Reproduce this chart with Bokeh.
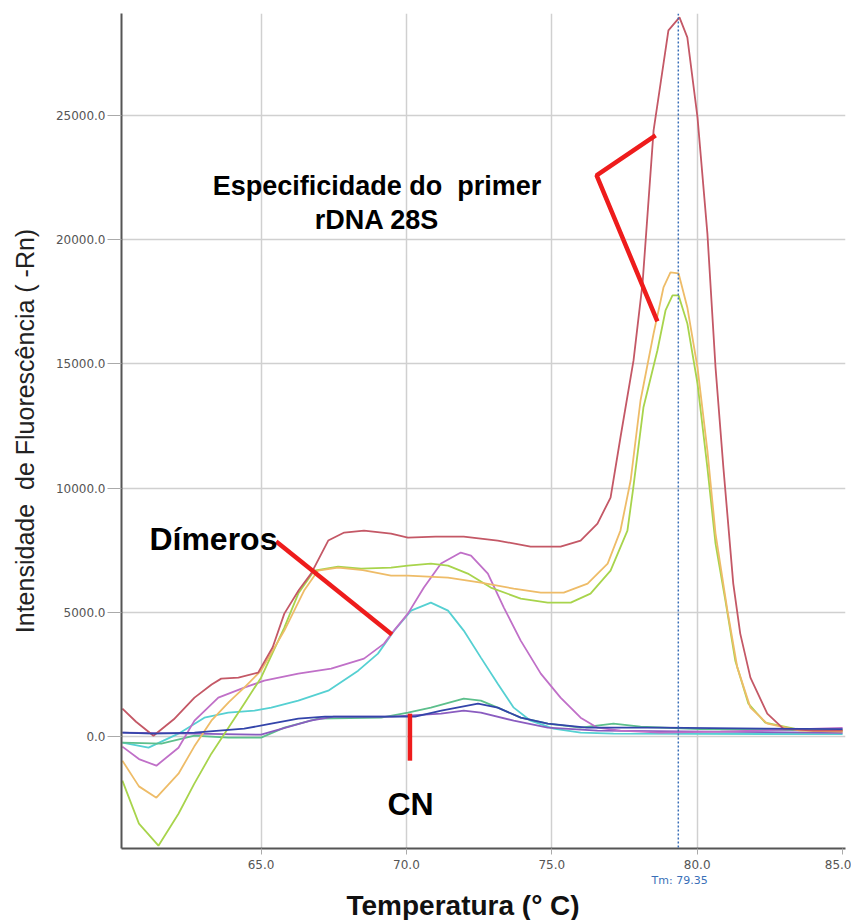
from bokeh.plotting import figure
from bokeh.models import Span, Label, FixedTicker, PrintfTickFormatter, Title
from bokeh.embed import file_html
from bokeh.resources import INLINE

# ---------------- data ----------------
x_ticks = [65.0, 70.0, 75.0, 80.0, 85.0]
y_ticks = [0.0, 5000.0, 10000.0, 15000.0, 20000.0, 25000.0]
tm_value = 79.35

red_t = [60.23, 60.7, 61.3, 62.0, 62.71, 63.3, 63.63, 64.22, 64.9, 65.4, 65.8, 66.3, 66.72, 67.31,
         67.86, 68.54, 69.47, 70.05, 71.0, 71.97, 73.14, 74.27, 75.30, 75.99, 76.57, 77.02, 77.36,
         77.81, 78.12, 78.50, 78.74, 79.01, 79.39, 79.66, 80.01, 80.35, 80.63, 80.90, 81.24, 81.48,
         81.83, 82.41, 82.96, 84.0, 85.0]
red_v = [1130, 600, 40, 700, 1570, 2100, 2335, 2375, 2577, 3600, 4952, 5900, 6562, 7891,
         8213, 8294, 8173, 8012, 8050, 8052, 7891, 7649, 7649, 7891, 8575, 9622, 12038,
         15138, 18238, 24398, 26290, 28424, 28947, 28142, 24921, 20251, 14856, 10830, 6160, 4147,
         2375, 926, 322, 240, 240]

orange_t = [60.23, 60.8, 61.40, 62.16, 62.7, 63.29, 63.9, 64.42, 65.0, 65.8, 66.48, 66.96, 67.65,
            68.5, 69.47, 70.05, 71.43, 72.56, 73.69, 74.62, 75.41, 76.23, 76.92, 77.36, 77.71,
            78.05, 78.50, 78.84, 79.08, 79.36, 79.66, 80.01, 80.35, 80.63, 81.04, 81.38, 81.83,
            82.41, 83.54, 85.0]
orange_v = [-966, -2000, -2456, -1490, -400, 644, 1400, 1973, 2657, 4268, 5878, 6683, 6804,
            6700, 6482, 6482, 6401, 6200, 5958, 5797, 5797, 6160, 6965, 8294, 10307,
            13527, 16224, 18076, 18680, 18640, 17272, 14856, 11514, 8173, 5073, 2778, 1168,
            523, 240, 200]

lime_t = [60.23, 60.8, 61.47, 62.16, 62.7, 63.29, 63.9, 64.42, 65.0, 65.8, 66.28, 66.83, 67.65,
          68.44, 69.47, 70.05, 70.84, 71.43, 72.11, 72.9, 73.93, 74.86, 75.65, 76.33, 77.02,
          77.6, 77.8, 78.15, 78.63, 78.91, 79.15, 79.36, 79.66, 80.01, 80.35, 80.63, 80.97,
          81.31, 81.76, 82.34, 83.5, 85.0]
lime_v = [-1771, -3500, -4388, -3100, -1900, -684, 400, 1329, 2375, 4388, 5757, 6683, 6844,
          6764, 6804, 6884, 6965, 6884, 6562, 5999, 5556, 5395, 5395, 5757, 6683,
          8294, 10000, 13245, 15540, 17151, 17755, 17755, 16627, 14212, 10830, 7770, 5475,
          3060, 1329, 564, 282, 240]

magenta_t = [60.23, 60.8, 61.40, 62.16, 62.71, 63.53, 64.42, 65.11, 66.28, 67.41, 68.54, 69.23,
             69.57, 70.05, 70.60, 71.19, 71.87, 72.22, 72.80, 73.35, 73.93, 74.62, 75.30, 75.99,
             76.57, 77.36, 78.74, 80.8, 85.0]
magenta_v = [-400, -900, -1168, -443, 644, 1570, 1973, 2255, 2536, 2738, 3140, 3744,
             4268, 4952, 5999, 6965, 7408, 7287, 6562, 5194, 3865, 2536, 1570, 765,
             362, 242, 161, 200, 350]

cyan_t = [60.23, 61.13, 62.16, 63.05, 63.87, 64.77, 65.35, 66.28, 67.31, 68.34, 69.02, 69.6,
          70.16, 70.84, 71.43, 71.97, 72.56, 73.14, 73.69, 74.27, 75.06, 75.99, 77.12, 85.0]
cyan_v = [-240, -443, 120, 765, 966, 1047, 1168, 1449, 1852, 2657, 3342, 4300,
          5073, 5395, 5073, 4268, 3181, 2134, 1168, 644, 322, 161, 120, 100]

green_t = [60.23, 61.57, 62.71, 63.87, 65.0, 65.8, 66.96, 69.13, 70.05, 70.84, 71.97, 72.56,
           73.14, 73.93, 74.86, 75.99, 77.12, 78.05, 80.1, 85.0]
green_v = [-240, -280, 40, -40, -40, 362, 724, 765, 966, 1168, 1530, 1449,
           1168, 765, 523, 362, 523, 400, 300, 240]

blue_t = [60.23, 61.3, 62.71, 64.42, 65.35, 66.28, 67.2, 69.47, 70.3, 71.2, 72.46, 73.14,
          73.93, 74.86, 76.2, 78.7, 85.0]
blue_v = [161, 120, 161, 322, 523, 724, 805, 805, 805, 1047, 1329, 1168,
          765, 523, 362, 362, 300]

purple_t = [60.23, 62.71, 65.0, 66.7, 67.5, 69.5, 71.19, 71.97, 72.56, 73.69, 74.86, 76.57, 85.0]
purple_v = [161, 120, 80, 644, 805, 805, 926, 1047, 966, 644, 362, 240, 150]

# annotation pointer lines (data coords)
spec_line_t = [78.57, 76.54, 78.63]
spec_line_v = [24196, 22586, 16708]
dimer_line_t = [65.52, 69.50]
dimer_line_v = [7851, 4107]
cn_line_t = [70.12, 70.12]
cn_line_v = [926, -966]

# ---------------- figure ----------------
p = figure(frame_width=724, frame_height=835, x_range=(60.2, 85.1), y_range=(-4500, 29100),
           output_backend="svg", toolbar_location=None,
           min_border_left=121, min_border_right=6, min_border_top=13, min_border_bottom=0)
p.outline_line_color = None
p.background_fill_color = "white"
p.border_fill_color = "white"

p.xaxis.ticker = FixedTicker(ticks=x_ticks)
p.yaxis.ticker = FixedTicker(ticks=y_ticks)
p.xaxis.formatter = PrintfTickFormatter(format="%.1f")
p.yaxis.formatter = PrintfTickFormatter(format="%.1f")
p.xgrid.ticker = FixedTicker(ticks=x_ticks[:-1])
p.ygrid.ticker = FixedTicker(ticks=y_ticks)
p.grid.grid_line_color = "#d0d0d0"
p.grid.grid_line_width = 1.5

for ax in (p.xaxis[0], p.yaxis[0]):
    ax.axis_line_color = "#555555"
    ax.axis_line_width = 2
    ax.major_tick_line_color = "#aaaaaa"
    ax.major_tick_in = 0
    ax.minor_tick_line_color = None
    ax.major_label_text_font = "DejaVu Sans"
    ax.major_label_text_font_size = "12px"
    ax.major_label_text_color = "#555555"

p.yaxis.major_tick_out = 14
p.yaxis.major_label_standoff = 2
p.xaxis.major_tick_out = 6
p.xaxis.major_label_standoff = 5

p.yaxis.axis_label = "Intensidade\u00a0 de Fluorescência ( -Rn)"
p.yaxis.axis_label_text_font = "Liberation Sans"
p.yaxis.axis_label_text_font_size = "25px"
p.yaxis.axis_label_text_font_style = "normal"
p.yaxis.axis_label_text_color = "#222222"
p.yaxis.axis_label_standoff = 14

series = [
    (cyan_t, cyan_v, "#55d0d2"),
    (green_t, green_v, "#5cbf8c"),
    (purple_t, purple_v, "#8a5cc0"),
    (magenta_t, magenta_v, "#c070c8"),
    (lime_t, lime_v, "#a8d44c"),
    (orange_t, orange_v, "#eebc68"),
    (red_t, red_v, "#c45866"),
    (blue_t, blue_v, "#3344aa"),
]
for t, v, c in series:
    p.line(t, v, line_color=c, line_width=1.8)

p.add_layout(Span(location=tm_value, dimension="height", line_color="#3a6fb8",
                  line_dash="2 2", line_width=1.5))

red = "#ee1c1c"
p.line(spec_line_t, spec_line_v, line_color=red, line_width=4.5)
p.line(dimer_line_t, dimer_line_v, line_color=red, line_width=4.5)
p.line(cn_line_t, cn_line_v, line_color=red, line_width=4.5)

def lab(x, y, text, size, align="center"):
    p.add_layout(Label(x=x, y=y, text=text, text_font="Liberation Sans", text_font_size=size,
                       text_font_style="bold", text_color="black",
                       text_align=align, text_baseline="alphabetic"))

lab(68.99, 22143, "Especificidade do\u00a0 primer", "27px")
lab(68.99, 20774, "rDNA 28S", "27px")
lab(61.16, 7971, "Dímeros", "32px", align="left")
lab(70.14, -2697, "CN", "32px")

# texts below the x axis
p.add_layout(Title(text="Tm: 79.35", align="left", offset=530, standoff=1,
                   text_font="DejaVu Sans", text_font_size="11px", text_font_style="normal",
                   text_color="#3a6fb8"), "below")
p.add_layout(Title(text="Temperatura (° C)", align="left", offset=225, standoff=0,
                   text_font="Liberation Sans", text_font_size="28px", text_font_style="bold",
                   text_color="#111111", text_line_height=1.0), "below")

open("out.html", "w").write(file_html(p, INLINE))
